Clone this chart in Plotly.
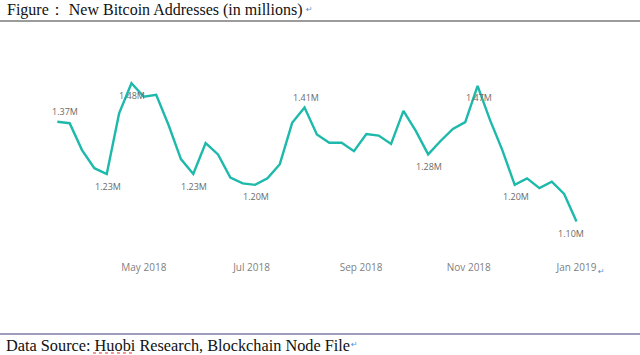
import pandas as pd
import plotly.graph_objects as go

# ---- data ----
start_date = "2018-03-13"
values = [1.374, 1.370, 1.296, 1.246, 1.230, 1.397, 1.480, 1.443, 1.448, 1.365,
          1.271, 1.230, 1.315, 1.284, 1.220, 1.204, 1.200, 1.218, 1.257, 1.371,
          1.413, 1.339, 1.316, 1.316, 1.293, 1.340, 1.336, 1.313, 1.404, 1.349,
          1.284, 1.321, 1.354, 1.373, 1.473, 1.379, 1.296, 1.200, 1.218, 1.191,
          1.209, 1.175, 1.099]
dates = pd.date_range(start_date, periods=len(values), freq="7D")
tick_dates = ["2018-05-01", "2018-07-01", "2018-09-01", "2018-11-01", "2019-01-01"]
tick_labels = ["May 2018", "Jul 2018", "Sep 2018", "Nov 2018", "Jan 2019"]
label_idx = [0, 4, 6, 11, 16, 20, 30, 34, 37, 42]
label_text = ["1.37M", "1.23M", "1.48M", "1.23M", "1.20M", "1.41M", "1.28M", "1.47M", "1.20M", "1.10M"]

title_text = "Figure： New Bitcoin Addresses (in millions)"
source_text = "Data Source: Huobi Research, Blockchain Node File"

# ---- layout helpers (pixel geometry) ----
W, H = 640, 355
px_per_day = 1.766
jan1 = pd.Timestamp("2019-01-01")
jan1_px = 576.5
x_left = jan1 - pd.Timedelta(days=jan1_px / px_per_day)
x_right = jan1 + pd.Timedelta(days=(W - jan1_px) / px_per_day)

plot_top, plot_bot = 40, 258
px_per_unit = 362.8
ref_v, ref_px = 1.48, 83.3
y_top = ref_v + (ref_px - plot_top) / px_per_unit
y_bot = ref_v - (plot_bot - ref_px) / px_per_unit

def py(p):
    return 1 - p / H

line_color = "#1DB9AA"

fig = go.Figure()
fig.add_trace(go.Scatter(
    x=dates, y=values, mode="lines",
    line=dict(color=line_color, width=2.4),
    hoverinfo="skip", showlegend=False,
))

# data labels
label_style = {
    0: dict(yshift=10.5, xshift=7.5),
    20: dict(yshift=10.5, xshift=1),
    42: dict(yshift=-12, xshift=-6),
}
for i, t in zip(label_idx, label_text):
    st = label_style.get(i, dict(yshift=-12, xshift=1))
    fig.add_annotation(
        x=dates[i], y=values[i], text=t, showarrow=False,
        xanchor="center", yanchor="middle",
        font=dict(family="Open Sans", size=9, color="#6b6b6b"),
        **st,
    )

# title & source texts
fig.add_annotation(x=5 / W, y=py(10), xref="paper", yref="paper", text=title_text,
                   showarrow=False, xanchor="left", yanchor="middle",
                   font=dict(family="Liberation Serif", size=16, color="#111111"))
fig.add_annotation(x=304 / W, y=py(10), xref="paper", yref="paper", text="↵",
                   showarrow=False, xanchor="left", yanchor="middle",
                   font=dict(family="DejaVu Sans", size=8, color="#4a90d9"))
fig.add_annotation(x=4 / W, y=py(345), xref="paper", yref="paper", text=source_text,
                   showarrow=False, xanchor="left", yanchor="middle",
                   font=dict(family="Liberation Serif", size=16.3, color="#111111"))
fig.add_annotation(x=349 / W, y=py(344), xref="paper", yref="paper", text="↵",
                   showarrow=False, xanchor="left", yanchor="middle",
                   font=dict(family="DejaVu Sans", size=8, color="#4a90d9"))
fig.add_annotation(x=596 / W, y=py(271), xref="paper", yref="paper", text="↵",
                   showarrow=False, xanchor="left", yanchor="middle",
                   font=dict(family="DejaVu Sans", size=8, color="#4a90d9"))

# rules
fig.add_shape(type="line", xref="paper", yref="paper", x0=0, x1=1, y0=py(21), y1=py(21),
              line=dict(color="#7a7a7a", width=1.5))
fig.add_shape(type="line", xref="paper", yref="paper", x0=0, x1=1, y0=py(334), y1=py(334),
              line=dict(color="#7c7ca6", width=1.5))
# spell-check squiggle under "Huobi"
fig.add_shape(type="line", xref="paper", yref="paper", x0=93 / W, x1=135 / W,
              y0=py(353), y1=py(353), line=dict(color="#e03030", width=1, dash="dot"))

fig.update_layout(
    template="none",
    width=W, height=H,
    margin=dict(l=0, r=0, t=0, b=0),
    paper_bgcolor="white", plot_bgcolor="white",
    xaxis=dict(
        range=[x_left, x_right], domain=[0, 1],
        tickvals=tick_dates, ticktext=tick_labels,
        showgrid=False, zeroline=False, showline=False, ticks="",
        tickfont=dict(family="Open Sans", size=10, color="#808080"),
        automargin=False, ticklabelstandoff=2,
    ),
    yaxis=dict(
        range=[y_bot, y_top], domain=[py(plot_bot), py(plot_top)],
        showgrid=False, zeroline=False, showline=False, showticklabels=False, ticks="",
        automargin=False,
    ),
)

fig.write_html(
    "out.html",
    config={"displayModeBar": False, "staticPlot": True},
    post_script="document.body.style.margin='0';document.body.style.overflow='hidden';",
)
